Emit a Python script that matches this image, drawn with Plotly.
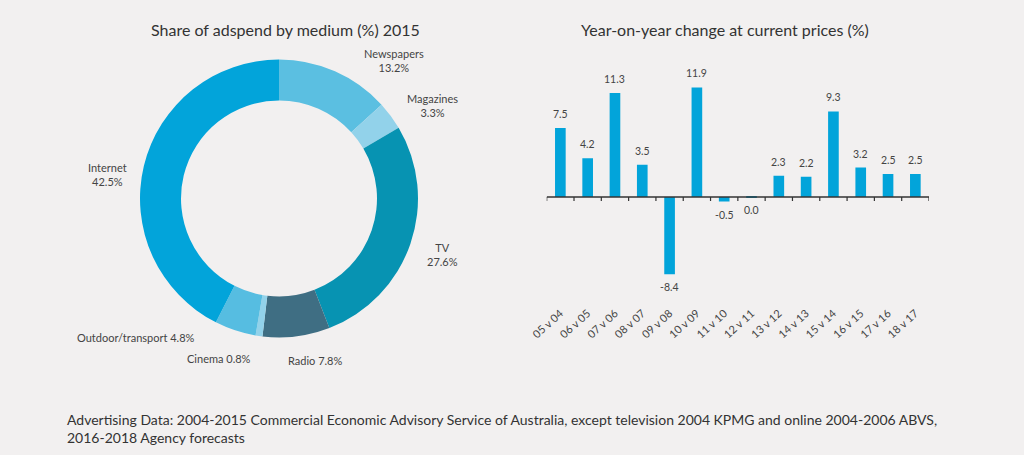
import math
import plotly.graph_objects as go

# ---------------- data ----------------
media = ["Newspapers", "Magazines", "TV", "Radio", "Cinema", "Outdoor/transport", "Internet"]
share = [13.2, 3.3, 27.6, 7.8, 0.8, 4.8, 42.5]
media_colors = ["#5bbfe1", "#92d2ea", "#0793b2", "#3f6e83", "#92d2ea", "#56bde1", "#02a4da"]
two_line = [True, True, True, False, False, False, True]
# outside-label placement style: angular nudge (deg) from slice middle and gap (px) beyond the ring
label_nudge = [7, 0, 2, 6, 0, 12, -4]
label_gap = [10, 10, 11, 16, 16, 16, 6]

periods = ["05 v 04", "06 v 05", "07 v 06", "08 v 07", "09 v 08", "10 v 09", "11 v 10",
           "12 v 11", "13 v 12", "14 v 13", "15 v 14", "16 v 15", "17 v 16", "18 v 17"]
yoy_change = [7.5, 4.2, 11.3, 3.5, -8.4, 11.9, -0.5, -0.04, 2.3, 2.2, 9.3, 3.2, 2.5, 2.5]

BG = "#f2f0f0"
TXT = "#444444"
FONT = "Lato"

W, H = 1024, 455

fig = go.Figure()

# ---------------- donut ----------------
pie_text = [f"{m}<br>{s:.1f}%" if t else f"{m} {s:.1f}%" for m, s, t in zip(media, share, two_line)]
cx, cy, r = 279, 198.5, 139

fig.add_trace(go.Pie(
    labels=media, values=share,
    textinfo="none",
    sort=False, direction="clockwise", rotation=0, hole=0.705,
    marker=dict(colors=media_colors, line=dict(width=0)),
    domain=dict(x=[(cx - r) / W, (cx + r) / W], y=[1 - (cy + r) / H, 1 - (cy - r) / H]),
    showlegend=False, hoverinfo="label+value",
))

annotations = []
total = sum(share)
cum = 0.0
for txt, v, tl, nd, gap in zip(pie_text, share, two_line, label_nudge, label_gap):
    theta = math.radians((cum + v / 2) / total * 360 + nd)
    cum += v
    R = r + gap
    px = R * math.sin(theta)
    py = -R * math.cos(theta)          # pixel y grows downward
    hh = 13 if tl else 7
    yoff = (hh if py > 0 else -hh) / (1 + (px / py) ** 2) if py != 0 else 0
    annotations.append(dict(
        text=txt, x=(cx + px) / W, y=1 - (cy + py) / H, xref="paper", yref="paper",
        showarrow=False, align="center",
        xanchor="left" if px > 0 else "right", yanchor="middle",
        xshift=(hh / 2) * (1 if px > 0 else -1), yshift=-yoff,
        font=dict(family=FONT, size=11, color=TXT)))

# ---------------- bars ----------------
bar_text = [f"{v:.1f}" if abs(v) >= 0.05 else "0.0" for v in yoy_change]
fig.add_trace(go.Bar(
    x=periods, y=yoy_change,
    marker=dict(color="#02a4da", line=dict(width=0)),
    xaxis="x", yaxis="y", showlegend=False,
))

# zero axis line with boundary ticks
n = len(periods)
fig.add_shape(type="line", xref="x", yref="y", x0=-0.5, x1=n - 0.5, y0=0, y1=0,
              line=dict(color="#333333", width=1.5))
for i in range(n + 1):
    fig.add_shape(type="line", xref="x", yref="y", ysizemode="pixel", yanchor=0,
                  x0=i - 0.5, x1=i - 0.5, y0=0, y1=-4,
                  line=dict(color="#333333", width=1.2))

for p, v, t in zip(periods, yoy_change, bar_text):
    annotations.append(dict(
        x=p, y=v, xref="x", yref="y", text=t, showarrow=False,
        xanchor="center", yanchor="middle", yshift=14 if v > 0 else -13,
        font=dict(family=FONT, size=10.5, color=TXT)))

bar_x0, bar_x1 = 546.7, 929
bar_top, bar_bot = 70, 296
annotations += [
    dict(text="Share of adspend by medium (%) 2015", x=285 / W, y=1 - 30 / H,
         xref="paper", yref="paper", showarrow=False, xanchor="center", yanchor="middle",
         font=dict(family=FONT, size=16, color="#333333")),
    dict(text="Year-on-year change at current prices (%)", x=725 / W, y=1 - 30 / H,
         xref="paper", yref="paper", showarrow=False, xanchor="center", yanchor="middle",
         font=dict(family=FONT, size=16, color="#333333")),
    dict(text="Advertising Data: 2004-2015 Commercial Economic Advisory Service of Australia, except television 2004 KPMG and online 2004-2006 ABVS,<br>2016-2018 Agency forecasts",
         x=65 / W, y=1 - 409 / H, xref="paper", yref="paper", showarrow=False,
         xanchor="left", yanchor="top", align="left",
         font=dict(family=FONT, size=14, color="#333333")),
]

fig.update_layout(
    width=W, height=H,
    margin=dict(l=0, r=0, t=0, b=0, autoexpand=False),
    paper_bgcolor=BG, plot_bgcolor=BG,
    font=dict(family=FONT, color=TXT),
    bargap=0.61,
    xaxis=dict(domain=[bar_x0 / W, bar_x1 / W], range=[-0.5, n - 0.5],
               showline=False, showgrid=False, zeroline=False, ticks="",
               ticklabelstandoff=8,
               tickangle=-42, tickfont=dict(family=FONT, size=11, color=TXT),
               anchor="y", fixedrange=True, automargin=False),
    yaxis=dict(domain=[1 - bar_bot / H, 1 - bar_top / H], range=[-10.76, 13.8],
               visible=False, anchor="x", fixedrange=True, automargin=False),
    annotations=annotations,
)

fig.write_html("out.html")
